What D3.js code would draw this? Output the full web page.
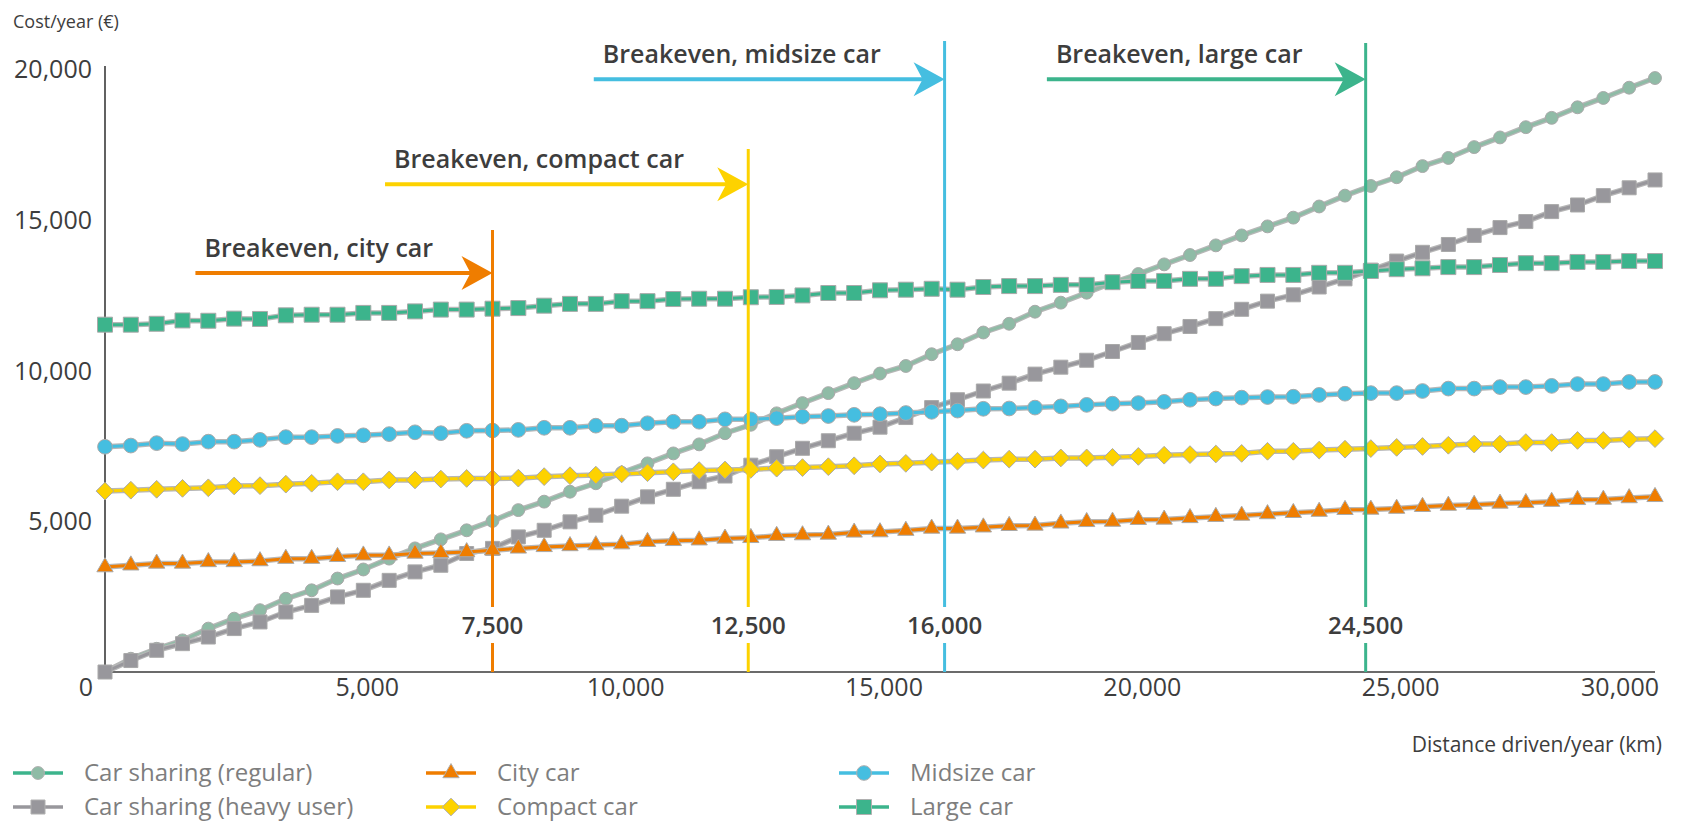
<!DOCTYPE html>
<html>
<head>
<meta charset="utf-8">
<script src="https://cdn.jsdelivr.net/npm/d3@7"></script>
<style>
  html, body { margin: 0; padding: 0; background: #fff; }
  svg { display: block; font-family: "Open Sans", "Liberation Sans", sans-serif; }
</style>
</head>
<body>
<svg id="chart" width="1691" height="829"></svg>
<script>
// ======================================================
//   Car sharing vs. owning a car — yearly cost by distance
// ======================================================

// =============================
// 1. DATA
// =============================
const distances = [
  0, 500, 1000, 1500, 2000, 2500, 3000, 3500, 4000, 4500,
  5000, 5500, 6000, 6500, 7000, 7500, 8000, 8500, 9000, 9500,
  10000, 10500, 11000, 11500, 12000, 12500, 13000, 13500, 14000, 14500,
  15000, 15500, 16000, 16500, 17000, 17500, 18000, 18500, 19000, 19500,
  20000, 20500, 21000, 21500, 22000, 22500, 23000, 23500, 24000, 24500,
  25000, 25500, 26000, 26500, 27000, 27500, 28000, 28500, 29000, 29500, 30000
];

const sharingRegular = [
  0, 440, 770, 1050, 1440, 1770, 2050, 2430, 2710, 3100,
  3400, 3760, 4100, 4400, 4700, 5010, 5370, 5650, 5980, 6260,
  6610, 6920, 7250, 7550, 7920, 8200, 8580, 8920, 9250, 9580,
  9900, 10150, 10540, 10870, 11260, 11550, 11950, 12250, 12580, 12910,
  13200, 13520, 13830, 14150, 14480, 14780, 15070, 15440, 15800, 16120,
  16410, 16780, 17050, 17410, 17730, 18070, 18380, 18730, 19040, 19380, 19700
];

const sharingHeavy = [
  0, 380, 720, 940, 1160, 1440, 1660, 1990, 2210, 2490,
  2710, 3040, 3320, 3540, 3930, 4100, 4480, 4700, 4980, 5200,
  5500, 5810, 6060, 6310, 6500, 6860, 7140, 7420, 7670, 7920,
  8120, 8440, 8770, 9030, 9320, 9580, 9880, 10110, 10340, 10630,
  10930, 11220, 11460, 11720, 12030, 12300, 12510, 12770, 13040, 13330,
  13630, 13920, 14180, 14480, 14740, 14940, 15270, 15490, 15800, 16060, 16320
];

const cityCar = [
  3480, 3540, 3600, 3600, 3650, 3650, 3680, 3760, 3760, 3820,
  3870, 3870, 3930, 3950, 3980, 4040, 4100, 4150, 4180, 4210,
  4240, 4320, 4350, 4370, 4430, 4450, 4520, 4540, 4560, 4630,
  4640, 4690, 4760, 4760, 4800, 4850, 4860, 4930, 4980, 4990,
  5050, 5060, 5110, 5150, 5190, 5240, 5280, 5320, 5380, 5390,
  5420, 5480, 5520, 5550, 5590, 5610, 5650, 5710, 5720, 5770, 5810
];

const compactCar = [
  6000, 6030, 6060, 6090, 6110, 6170, 6180, 6230, 6260, 6310,
  6310, 6370, 6370, 6400, 6420, 6420, 6430, 6480, 6510, 6530,
  6570, 6610, 6640, 6680, 6700, 6720, 6760, 6780, 6810, 6840,
  6900, 6920, 6960, 6990, 7030, 7060, 7060, 7100, 7100, 7120,
  7150, 7190, 7210, 7230, 7250, 7320, 7320, 7360, 7390, 7410,
  7450, 7480, 7520, 7560, 7560, 7610, 7610, 7680, 7680, 7720, 7740
];

const midsizeCar = [
  7470, 7510, 7590, 7560, 7640, 7640, 7700, 7790, 7790, 7830,
  7850, 7890, 7950, 7920, 8000, 8010, 8030, 8100, 8100, 8170,
  8170, 8250, 8300, 8300, 8380, 8380, 8420, 8470, 8490, 8530,
  8550, 8590, 8630, 8670, 8730, 8740, 8770, 8810, 8860, 8900,
  8920, 8960, 9030, 9070, 9100, 9120, 9130, 9190, 9230, 9250,
  9250, 9320, 9400, 9400, 9450, 9450, 9490, 9550, 9550, 9620, 9620
];

const largeCar = [
  11520, 11520, 11550, 11660, 11650, 11720, 11710, 11830, 11850, 11850,
  11910, 11910, 11960, 12020, 12020, 12050, 12070, 12150, 12210, 12210,
  12300, 12300, 12370, 12380, 12380, 12430, 12440, 12490, 12570, 12570,
  12660, 12680, 12710, 12680, 12770, 12800, 12800, 12840, 12840, 12930,
  12970, 12970, 13040, 13040, 13130, 13170, 13170, 13240, 13240, 13300,
  13360, 13390, 13430, 13430, 13500, 13560, 13560, 13600, 13600, 13630, 13630
];

const seriesNames = [
  "Car sharing (regular)", "Car sharing (heavy user)", "City car",
  "Compact car", "Midsize car", "Large car"
];

const xTicks = [0, 5000, 10000, 15000, 20000, 25000, 30000];
const yTicks = [5000, 10000, 15000, 20000];

const breakevenAt = [7500, 12450, 16250, 24400];
const breakevenLabels = ["7,500", "12,500", "16,000", "24,500"];
const breakevenTitles = [
  "Breakeven, city car", "Breakeven, compact car",
  "Breakeven, midsize car", "Breakeven, large car"
];

(function () {
  "use strict";

  // =============================
  // 2. STYLE / LAYOUT
  // =============================
  const C = {
    sage: "#8fbba6",
    gray: "#98979c",
    orange: "#ef7d00",
    yellow: "#fdd200",
    blue: "#45bee0",
    green: "#3cb48c",
    axis: "#3a3a3a",
    text: "#3d3d3d",
    legendText: "#7e7e7e",
  };

  const series = [
    { name: seriesNames[0], values: sharingRegular, color: C.sage, legendLine: C.green, symbol: d3.symbolCircle, size: 130 },
    { name: seriesNames[1], values: sharingHeavy, color: C.gray, legendLine: C.gray, symbol: d3.symbolSquare, size: 196 },
    { name: seriesNames[2], values: cityCar, color: C.orange, legendLine: C.orange, symbol: d3.symbolTriangle, size: 115 },
    { name: seriesNames[3], values: compactCar, color: C.yellow, legendLine: C.yellow, symbol: d3.symbolDiamond2, size: 200 },
    { name: seriesNames[4], values: midsizeCar, color: C.blue, legendLine: C.blue, symbol: d3.symbolCircle, size: 170 },
    { name: seriesNames[5], values: largeCar, color: C.green, legendLine: C.green, symbol: d3.symbolSquare, size: 225 },
  ];

  // annotation placement (in data units)
  const notes = [
    { color: C.orange, from: 1750, arrowY: 13230, top: 14660 },
    { color: C.yellow, from: 5420, arrowY: 16180, top: 17350 },
    { color: C.blue, from: 9460, arrowY: 19660, top: 20930 },
    { color: C.green, from: 18230, arrowY: 19660, top: 20860 },
  ];

  const svg = d3.select("#chart");

  const x = d3.scaleLinear().domain([0, 30000]).range([105, 1655]);
  const y = d3.scaleLinear().domain([0, 20000]).range([672, 69]);

  // =============================
  // 3. AXES
  // =============================
  svg.append("line")
    .attr("x1", x(0)).attr("x2", x(0))
    .attr("y1", y(20000) - 3).attr("y2", y(0))
    .attr("stroke", C.axis).attr("stroke-width", 1.6);

  svg.append("line")
    .attr("x1", x(0)).attr("x2", x(30000))
    .attr("y1", y(0)).attr("y2", y(0))
    .attr("stroke", C.axis).attr("stroke-width", 1.6);

  svg.append("g").selectAll("text")
    .data(yTicks)
    .join("text")
    .attr("x", x(0) - 13)
    .attr("y", (d) => y(d) + 9)
    .attr("text-anchor", "end")
    .attr("font-size", 25)
    .attr("fill", C.text)
    .text((d) => d3.format(",")(d));

  svg.append("g").selectAll("text")
    .data(xTicks)
    .join("text")
    .attr("x", (d, i) => (i === 0 ? x(d) - 12 : i === xTicks.length - 1 ? x(d) + 4 : x(d) + 4))
    .attr("y", 696)
    .attr("text-anchor", (d, i) => (i === 0 || i === xTicks.length - 1 ? "end" : "middle"))
    .attr("font-size", 25)
    .attr("fill", C.text)
    .text((d) => d3.format(",")(d));

  svg.append("text")
    .attr("x", 13).attr("y", 28)
    .attr("font-size", 18)
    .attr("fill", C.text)
    .text("Cost/year (€)");

  svg.append("text")
    .attr("x", 1662).attr("y", 752)
    .attr("text-anchor", "end")
    .attr("font-size", 21)
    .attr("fill", C.text)
    .text("Distance driven/year (km)");

  // =============================
  // 4. SERIES
  // =============================
  const line = d3.line()
    .x((d, i) => x(distances[i]))
    .y((d) => y(d));

  series.forEach((s) => {
    const g = svg.append("g");

    g.append("path")
      .attr("d", line(s.values))
      .attr("fill", "none")
      .attr("stroke", "#b7b7b7")
      .attr("stroke-width", 5.5);

    g.append("path")
      .attr("d", line(s.values))
      .attr("fill", "none")
      .attr("stroke", s.color)
      .attr("stroke-width", 3);

    g.selectAll("path.mark")
      .data(s.values)
      .join("path")
      .attr("class", "mark")
      .attr("transform", (d, i) => `translate(${x(distances[i])},${y(d)})`)
      .attr("d", d3.symbol().type(s.symbol).size(s.size))
      .attr("fill", s.color)
      .attr("stroke", "#a9a9a9")
      .attr("stroke-width", 1);
  });

  // =============================
  // 5. BREAKEVEN ANNOTATIONS
  // =============================
  const gapTop = 607;
  const gapBottom = 643;

  notes.forEach((n, i) => {
    const g = svg.append("g");
    const bx = x(breakevenAt[i]);
    const ay = y(n.arrowY);

    g.append("line")
      .attr("x1", bx).attr("x2", bx)
      .attr("y1", y(n.top)).attr("y2", gapTop)
      .attr("stroke", n.color).attr("stroke-width", 3);

    g.append("line")
      .attr("x1", bx).attr("x2", bx)
      .attr("y1", gapBottom).attr("y2", y(0))
      .attr("stroke", n.color).attr("stroke-width", 3);

    g.append("text")
      .attr("x", bx)
      .attr("y", (gapTop + gapBottom) / 2 + 9)
      .attr("text-anchor", "middle")
      .attr("font-size", 24)
      .attr("font-weight", 600)
      .attr("fill", C.text)
      .text(breakevenLabels[i]);

    // arrow shaft + stealth head
    g.append("line")
      .attr("x1", x(n.from)).attr("x2", bx - 20)
      .attr("y1", ay).attr("y2", ay)
      .attr("stroke", n.color).attr("stroke-width", 4);

    g.append("path")
      .attr("d", `M${bx},${ay} L${bx - 31},${ay - 17} L${bx - 22},${ay} L${bx - 31},${ay + 17} Z`)
      .attr("fill", n.color);

    g.append("text")
      .attr("x", x(n.from) + 9)
      .attr("y", ay - 16)
      .attr("font-size", 25)
      .attr("font-weight", 600)
      .attr("fill", C.text)
      .text(breakevenTitles[i]);
  });

  // =============================
  // 6. LEGEND
  // =============================
  const colX = [13, 426, 839];
  const rowY = [773, 807];

  series.forEach((s, i) => {
    const lx = colX[Math.floor(i / 2)];
    const ly = rowY[i % 2];
    const g = svg.append("g").attr("transform", `translate(${lx},${ly})`);

    g.append("line")
      .attr("x1", 0).attr("x2", 50)
      .attr("y1", 0).attr("y2", 0)
      .attr("stroke", s.legendLine)
      .attr("stroke-width", 3.5);

    g.append("path")
      .attr("transform", "translate(25,0)")
      .attr("d", d3.symbol().type(s.symbol).size(s.size))
      .attr("fill", s.color)
      .attr("stroke", "#b0b0b0")
      .attr("stroke-width", 1);

    g.append("text")
      .attr("x", 71)
      .attr("y", 8)
      .attr("font-size", 24)
      .attr("fill", C.legendText)
      .text(s.name);
  });
})();
</script>
</body>
</html>
